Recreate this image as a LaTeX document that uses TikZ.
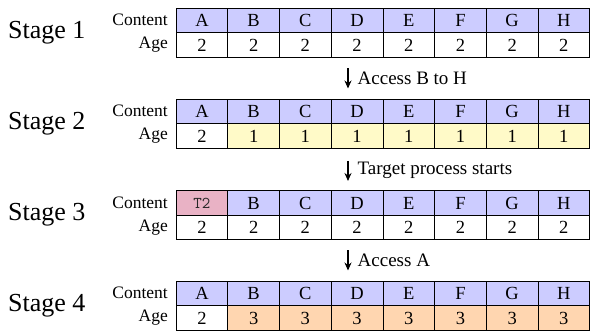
\documentclass[tikz,border=0pt]{standalone}
\usepackage{fontspec}
\setmainfont{Liberation Serif}
\usetikzlibrary{arrows.meta}
\definecolor{cblue}{RGB}{204,204,255}
\definecolor{cyel}{RGB}{255,250,200}
\definecolor{corange}{RGB}{255,214,176}
\definecolor{cpink}{RGB}{233,178,197}
\begin{document}
\begin{tikzpicture}[x=1pt,y=-1pt,
  cell/.style={draw, line width=0.8pt, minimum width=51.7pt, minimum height=24.5pt,
    inner sep=0pt, anchor=north west, font=\rmfamily\fontsize{18.5}{18.5}\selectfont},
  ttcell/.style={cell, text=black!85, font=\fontsize{16.5}{16.5}\selectfont\ttfamily},
  stagelbl/.style={anchor=west, inner sep=0pt, font=\rmfamily\fontsize{26}{26}\selectfont},
  rowlbl/.style={anchor=east, inner sep=0pt, font=\rmfamily\fontsize{17.5}{17.5}\selectfont},
  arrlbl/.style={anchor=west, inner sep=0pt, font=\rmfamily\fontsize{19}{19}\selectfont},
  flowarrow/.style={line width=1.5pt, -{Stealth[length=8pt,width=7pt]}}]
\useasboundingbox (0,0) rectangle (590,331);
\foreach \s/\ty/\agefill/\ageval in {1/8/white/2, 2/99/cyel/1, 3/190.5/white/2, 4/281/corange/3}{
  \node[stagelbl] (stage\s) at (8,\ty+24.5) {Stage \s};
  \node[rowlbl] (content\s) at (168,\ty+12.25) {Content};
  \node[rowlbl] (agelbl\s) at (168,\ty+36.75) {Age};
  \foreach \l [count=\i from 0] in {A,B,C,D,E,F,G,H}{
    \pgfmathsetmacro\xx{175.7+51.7*\i}
    \ifnum\i=0
      \ifnum\s=3
        \node[ttcell,fill=cpink] (c\s\l) at (\xx,\ty) {T2};
      \else
        \node[cell,fill=cblue] (c\s\l) at (\xx,\ty) {\l};
      \fi
      \node[cell,fill=white] (a\s\l) at (\xx,\ty+24.5) {2};
    \else
      \node[cell,fill=cblue] (c\s\l) at (\xx,\ty) {\l};
      \node[cell,fill=\agefill] (a\s\l) at (\xx,\ty+24.5) {\ageval};
    \fi
  }
}
\coordinate (s1) at (348,68.5);
\coordinate (e1) at (348,88.5);
\draw[flowarrow] (s1) -- (e1);
\node[arrlbl] (t1) at (357.5,78.5) {Access B to H};
\coordinate (s2) at (348,161);
\coordinate (e2) at (348,181);
\draw[flowarrow] (s2) -- (e2);
\node[arrlbl] (t2) at (357.5,170) {Target process starts};
\coordinate (s3) at (348,250.5);
\coordinate (e3) at (348,270.5);
\draw[flowarrow] (s3) -- (e3);
\node[arrlbl] (t3) at (357.5,260.5) {Access A};
\end{tikzpicture}
\end{document}
